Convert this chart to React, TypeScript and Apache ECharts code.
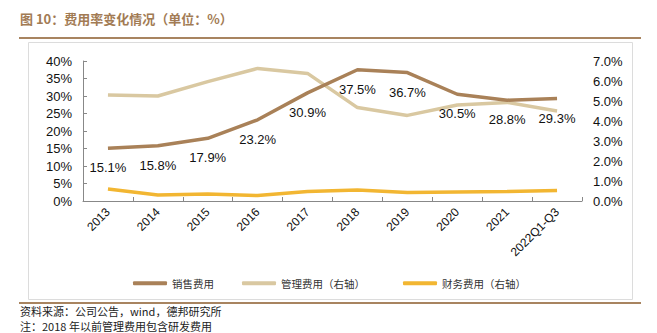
import React, { useEffect, useRef } from "react";
import * as echarts from "echarts";

const categories = ["2013", "2014", "2015", "2016", "2017", "2018", "2019", "2020", "2021", "2022Q1-Q3"];
const salesRate = [15.1, 15.8, 17.9, 23.2, 30.9, 37.5, 36.7, 30.5, 28.8, 29.3];
const adminRate = [5.3, 5.25, 5.97, 6.63, 6.38, 4.67, 4.28, 4.8, 4.93, 4.5];
const financeRate = [0.6, 0.3, 0.35, 0.27, 0.47, 0.55, 0.42, 0.45, 0.47, 0.52];
const seriesNames = ["销售费用", "管理费用（右轴）", "财务费用（右轴）"];
const titleText = "图 10：费用率变化情况（单位：%）";
const sourceText = "资料来源：公司公告，wind，德邦研究所";
const noteText = "注：2018 年以前管理费用包含研发费用";

const COLORS = ["#A98158", "#D9C8A1", "#F2B632"];
const CJK = '"Noto Sans CJK SC", "Liberation Sans", sans-serif';
const LAT = '"Liberation Sans", Arial, sans-serif';

export default function App() {
  const ref = useRef<HTMLDivElement>(null);
  useEffect(() => {
    if (!ref.current) return;
    const chart = echarts.init(ref.current, null, { renderer: "svg" });
    const legendLefts = [128, 237, 398];
    chart.setOption({
      animation: false,
      backgroundColor: "#fff",
      graphic: [
        {
          type: "rect",
          shape: { x: 28.5, y: 42.5, width: 604, height: 257 },
          style: { fill: "none", stroke: "#DCDCDC", lineWidth: 1 },
          silent: true,
        },
        {
          type: "text",
          x: 20,
          y: 12,
          style: { text: titleText, font: `bold 13px ${CJK}`, fill: "#A27B54" },
        },
        {
          type: "line",
          shape: { x1: 19, y1: 38, x2: 641, y2: 38 },
          style: { stroke: "#A88460", lineWidth: 2 },
        },
        {
          type: "line",
          shape: { x1: 19, y1: 303, x2: 641, y2: 303 },
          style: { stroke: "#A88460", lineWidth: 2 },
        },
        {
          type: "text",
          x: 20,
          y: 303.5,
          style: {
            text: sourceText + "\n" + noteText,
            font: `11px ${CJK}`,
            lineHeight: 15,
            fill: "#222",
          },
        },
      ],
      legend: seriesNames.map((n, i) => ({
        data: [n],
        left: legendLefts[i],
        top: 273,
        icon: "roundRect",
        itemWidth: 34,
        itemHeight: 4,
        textStyle: { fontFamily: CJK, fontSize: 10.5, color: "#333" },
      })),
      grid: { left: 83, right: 75, top: 61, bottom: 132 },
      xAxis: {
        type: "category",
        data: categories,
        boundaryGap: true,
        axisLine: { show: true, lineStyle: { color: "#888", width: 1 } },
        axisTick: { show: true, inside: true, length: 4, lineStyle: { color: "#888" } },
        axisLabel: {
          rotate: 45,
          interval: 0,
          margin: 9,
          fontFamily: LAT,
          fontSize: 12,
          color: "#111",
        },
        splitLine: { show: false },
      },
      yAxis: [
        {
          type: "value",
          min: 0,
          max: 40,
          interval: 5,
          axisLine: { show: true, lineStyle: { color: "#888" } },
          axisTick: { show: true, inside: true, length: 4, lineStyle: { color: "#888" } },
          axisLabel: {
            formatter: "{value}%",
            margin: 11,
            fontFamily: LAT,
            fontSize: 13,
            color: "#111",
          },
          splitLine: { show: false },
        },
        {
          type: "value",
          min: 0,
          max: 7,
          interval: 1,
          position: "right",
          axisLine: { show: false },
          axisTick: { show: false },
          axisLabel: {
            formatter: (v: number) => v.toFixed(1) + "%",
            margin: 11,
            fontFamily: LAT,
            fontSize: 13,
            color: "#111",
          },
          splitLine: { show: false },
        },
      ],
      series: [
        {
          name: seriesNames[0],
          type: "line",
          data: salesRate,
          yAxisIndex: 0,
          symbol: "circle",
          symbolSize: 0.1,
          showSymbol: true,
          lineStyle: { color: COLORS[0], width: 3.5 },
          itemStyle: { color: COLORS[0] },
          label: {
            show: true,
            position: "bottom",
            distance: 13,
            formatter: (p: any) => p.value.toFixed(1) + "%",
            fontFamily: LAT,
            fontSize: 13,
            color: "#111",
          },
          z: 3,
        },
        {
          name: seriesNames[1],
          type: "line",
          data: adminRate,
          yAxisIndex: 1,
          symbol: "none",
          lineStyle: { color: COLORS[1], width: 3.5 },
          itemStyle: { color: COLORS[1] },
          z: 2,
        },
        {
          name: seriesNames[2],
          type: "line",
          data: financeRate,
          yAxisIndex: 1,
          symbol: "none",
          lineStyle: { color: COLORS[2], width: 3.5 },
          itemStyle: { color: COLORS[2] },
          z: 2,
        },
      ],
    });
    return () => chart.dispose();
  }, []);
  return <div ref={ref} style={{ width: 657, height: 333, position: "absolute", left: 0, top: 0 }} />;
}
